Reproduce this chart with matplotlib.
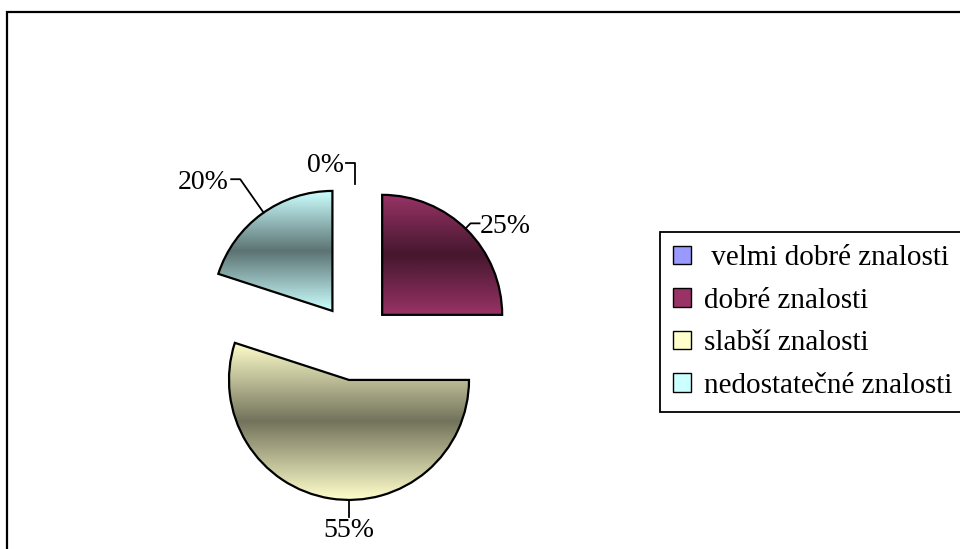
import numpy as np
import matplotlib
matplotlib.use('Agg')
import matplotlib.pyplot as plt
from matplotlib.patches import Rectangle
from matplotlib.colors import to_rgb

# ---- data ----
categories = [' velmi dobré znalosti', 'dobré znalosti', 'slabší znalosti', 'nedostatečné znalosti']
values = [0, 25, 55, 20]
pct_labels = ['0%', '25%', '55%', '20%']
colors = ['#9999FF', '#993366', '#FFFFCC', '#CCFFFF']

plt.rcParams['font.family'] = ['Liberation Serif', 'DejaVu Serif']
FS = 20

W, H = 960, 549
fig = plt.figure(figsize=(W / 100, H / 100), dpi=100)
ax = fig.add_axes([0, 0, 1, 1])

cx_px, cy_px, r_px = 355, 342, 120

wedges, _ = ax.pie(values, startangle=90, counterclock=False, explode=[0.32] * 4,
                   radius=1, center=(0, 0), colors=colors, frame=False,
                   wedgeprops=dict(edgecolor='black', linewidth=1.6))

# gradient fill: light at top/bottom, dark in the middle
n = 256
t = np.linspace(0, 1, n)
prof = np.abs(2 * t - 1)
for w, c, v in zip(wedges, colors, values):
    if v == 0:
        w.set_visible(False)
        continue
    base = np.array(to_rgb(c))
    dark = base * 0.45
    grad = dark[None, :] + (base - dark)[None, :] * prof[:, None]
    img = grad[:, None, :]
    ext = w.get_path().get_extents()
    im = ax.imshow(img, extent=[ext.x0, ext.x1, ext.y0, ext.y1], origin='lower',
                   aspect='auto', zorder=0.5, interpolation='bilinear')
    im.set_clip_path(w)
    w.set_facecolor('none')
    w.set_zorder(1)

ax.set_xlim(-cx_px / r_px, (W - cx_px) / r_px)
ax.set_ylim(-(H - cy_px) / r_px, cy_px / r_px)
ax.set_aspect('equal')
ax.axis('off')

# data labels with leader lines
leader_cw = [0, 44, 180, 325]
leader_r = [1.175, 1.06, 1.14, 1.34]
tail = 0.075
for w, lab, ang, rr in zip(wedges, pct_labels, leader_cw, leader_r):
    c = np.array(w.center)
    a = np.deg2rad(90 - ang)
    d = np.array([np.cos(a), np.sin(a)])
    p0 = c + d * 1.0
    p1 = c + d * rr
    if ang == 180:
        ax.plot([p0[0], p1[0]], [p0[1], p1[1]], color='black', lw=1.3, zorder=3)
        ax.text(p1[0], p1[1] - 0.01, lab, ha='center', va='top', fontsize=FS, zorder=3)
    elif d[0] > 1e-6:
        p2 = p1 + np.array([tail, 0])
        ax.plot([p0[0], p1[0], p2[0]], [p0[1], p1[1], p2[1]], color='black', lw=1.3, zorder=3)
        ax.text(p2[0] + 0.005, p2[1], lab, ha='left', va='center_baseline', fontsize=FS, zorder=3)
    else:
        p2 = p1 - np.array([tail, 0])
        ax.plot([p0[0], p1[0], p2[0]], [p0[1], p1[1], p2[1]], color='black', lw=1.3, zorder=3)
        ax.text(p2[0] - 0.02, p2[1], lab, ha='right', va='center_baseline', fontsize=FS, zorder=3)

# legend
handles = [Rectangle((0, 0), 1, 1, facecolor=c, edgecolor='black', linewidth=1.0) for c in colors]
leg = ax.legend(handles, categories, loc='upper left',
                bbox_to_anchor=(660 / W, 1 - 232 / H), bbox_transform=fig.transFigure,
                fontsize=21, frameon=True, fancybox=False, framealpha=1,
                edgecolor='black', handlelength=0.6, handleheight=0.6,
                handletextpad=0.45, labelspacing=0.57, borderpad=0.45, borderaxespad=0)
leg.get_frame().set_linewidth(1.3)

# outer chart border
fig.patches.append(Rectangle((7 / W, -0.1), 1.2, 1 - 12 / H + 0.1, transform=fig.transFigure,
                             fill=False, edgecolor='black', linewidth=1.6, clip_on=False))

fig.savefig('out.png', dpi=100)
